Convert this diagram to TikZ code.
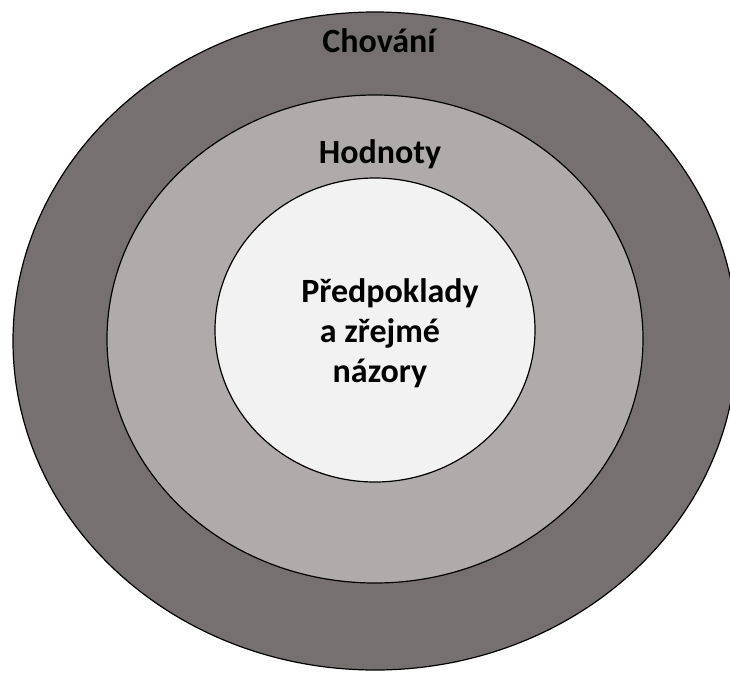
\documentclass[tikz,border=0pt]{standalone}
\usepackage{fontspec}
\setmainfont{Carlito}
\definecolor{outerc}{RGB}{118,113,112}
\definecolor{midc}{RGB}{175,171,170}
\definecolor{innerc}{RGB}{242,242,242}
\begin{document}
\begin{tikzpicture}[x=1pt,y=-1pt,
  ring/.style={draw=black,line width=1.2pt},
  lbl/.style={font=\fontsize{34}{40}\selectfont\bfseries,text=black,anchor=base,inner sep=0pt}]
\useasboundingbox (0,0) rectangle (730,672);
\begin{scope}
\clip (0,0) rectangle (730,672);
\filldraw[ring,fill=outerc] (375,341) ellipse [x radius=362,y radius=329];
\end{scope}
\filldraw[ring,fill=midc] (375,339) ellipse [x radius=268,y radius=244];
\filldraw[ring,fill=innerc] (375,330) ellipse [x radius=160,y radius=152];
\node[lbl] (chovani) at (379,52) {Chování};
\node[lbl] (hodnoty) at (380,163) {Hodnoty};
\node[lbl] (l1) at (390,302) {Předpoklady};
\node[lbl] (l2) at (380,342) {a zřejmé};
\node[lbl] (l3) at (380,382) {názory};
\end{tikzpicture}
\end{document}
